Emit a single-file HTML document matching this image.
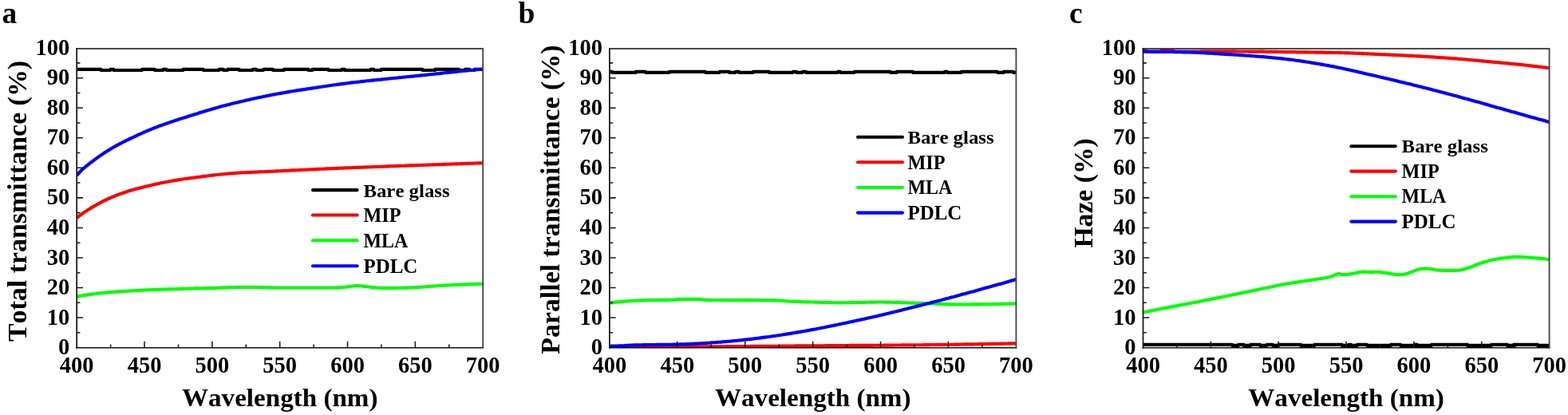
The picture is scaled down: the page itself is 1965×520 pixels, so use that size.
<!DOCTYPE html>
<html lang="en">
<head>
<meta charset="utf-8">
<title>Transmittance and haze spectra</title>
<style>
html,body{margin:0;padding:0;background:#fff;}
body{width:1965px;height:520px;overflow:hidden;}
svg{display:block;}
text{font-family:"Liberation Serif","DejaVu Serif",serif;font-weight:bold;fill:#000;font-kerning:none;}
.tick{font-size:28.5px;}
.leg{font-size:25px;}
.title{font-size:32px;}
.ytitle{font-size:33.5px;}
.plabel{font-size:37.5px;}
.curve{fill:none;stroke-width:4.15;stroke-linejoin:round;stroke-linecap:butt;}
.legline{fill:none;stroke-width:4.1;stroke-linecap:round;}
.axis{fill:none;stroke:#1c1c1c;stroke-width:1.8;}
.axisb{fill:none;stroke:#111;stroke-width:1.45;}
.axis2{fill:none;stroke:#111;stroke-width:1.5;}
.axis3{fill:none;stroke:#484848;stroke-width:1.9;}
.tk{stroke:#1a1a1a;stroke-width:1.55;}
</style>
</head>
<body>
<svg width="1965" height="520" viewBox="0 0 1965 520">
<rect x="0" y="0" width="1965" height="520" fill="#ffffff"/>

<g id="panel-a">
<clipPath id="clip-a"><rect x="96.20" y="60.90" width="509.00" height="374.90"/></clipPath>
<text class="plabel" text-anchor="middle" x="11.9" y="29.0">a</text>
<g clip-path="url(#clip-a)">
<path class="curve" stroke="#000" stroke-width="3.8" stroke-linejoin="miter" d="M96.2,86.9H126.4V88.0H138.3V86.9H142.3V88.0H178.0V86.9H193.9V88.0H204.4V86.9H208.4V88.0H229.6V86.9H254.7V88.0H274.6V86.9H279.9V88.0H285.2V86.9H299.7V88.0H316.9V86.9H320.9V88.0H330.1V86.9H342.1V88.0H356.0V86.9H386.4V88.0H391.7V86.9H411.5V88.0H428.3V86.9H431.8V88.0H464.4V86.9H468.4V88.0H477.7V86.9H529.3V88.0H545.2V86.9H574.9V88.0H582.9V86.9H588.2V88.0H594.8V86.9H605.2"/>
<polyline class="curve" stroke="#ff0000" points="96.2,273.2 97.9,271.7 99.6,270.4 101.3,269.1 103.0,267.9 104.7,266.7 106.4,265.6 108.1,264.4 109.8,263.3 111.5,262.3 113.2,261.2 114.9,260.1 116.6,259.1 118.3,258.1 120.0,257.1 121.7,256.2 123.4,255.3 125.1,254.3 126.8,253.4 128.5,252.5 130.2,251.7 131.9,250.8 133.7,250.0 135.4,249.2 137.1,248.5 138.8,247.7 140.5,247.0 142.2,246.3 143.9,245.6 145.6,244.9 147.3,244.2 149.0,243.6 150.7,243.0 152.4,242.4 154.1,241.8 155.8,241.2 157.5,240.7 159.2,240.1 160.9,239.6 162.6,239.1 164.3,238.6 166.0,238.1 167.7,237.6 169.4,237.1 171.1,236.6 172.8,236.2 174.5,235.8 176.2,235.3 177.9,234.9 179.6,234.5 181.3,234.0 183.0,233.6 184.7,233.2 186.4,232.8 188.1,232.4 189.8,232.0 191.5,231.6 193.2,231.2 194.9,230.8 196.6,230.4 198.3,230.1 200.0,229.7 201.7,229.3 203.4,229.0 205.1,228.7 206.9,228.3 208.6,228.0 210.3,227.7 212.0,227.3 213.7,227.0 215.4,226.7 217.1,226.4 218.8,226.1 220.5,225.9 222.2,225.6 223.9,225.3 225.6,225.0 227.3,224.8 229.0,224.5 230.7,224.3 232.4,224.0 234.1,223.8 235.8,223.6 237.5,223.3 239.2,223.1 240.9,222.9 242.6,222.7 244.3,222.4 246.0,222.2 247.7,222.0 249.4,221.8 251.1,221.6 252.8,221.3 254.5,221.1 256.2,220.9 257.9,220.7 259.6,220.5 261.3,220.2 263.0,220.0 264.7,219.8 266.4,219.6 268.1,219.4 269.8,219.2 271.5,219.0 273.2,218.8 274.9,218.7 276.6,218.5 278.4,218.3 280.1,218.2 281.8,218.0 283.5,217.8 285.2,217.7 286.9,217.5 288.6,217.4 290.3,217.3 292.0,217.1 293.7,217.0 295.4,216.9 297.1,216.8 298.8,216.6 300.5,216.5 302.2,216.4 303.9,216.3 305.6,216.2 307.3,216.2 309.0,216.1 310.7,216.0 312.4,215.9 314.1,215.8 315.8,215.8 317.5,215.7 319.2,215.6 320.9,215.6 322.6,215.5 324.3,215.4 326.0,215.4 327.7,215.3 329.4,215.2 331.1,215.2 332.8,215.1 334.5,215.0 336.2,214.9 337.9,214.9 339.6,214.8 341.3,214.7 343.0,214.6 344.7,214.5 346.4,214.4 348.1,214.4 349.8,214.3 351.6,214.2 353.3,214.1 355.0,214.0 356.7,213.9 358.4,213.8 360.1,213.8 361.8,213.7 363.5,213.6 365.2,213.5 366.9,213.4 368.6,213.3 370.3,213.3 372.0,213.2 373.7,213.1 375.4,213.0 377.1,212.9 378.8,212.9 380.5,212.8 382.2,212.7 383.9,212.6 385.6,212.5 387.3,212.5 389.0,212.4 390.7,212.3 392.4,212.2 394.1,212.1 395.8,212.1 397.5,212.0 399.2,211.9 400.9,211.8 402.6,211.7 404.3,211.7 406.0,211.6 407.7,211.5 409.4,211.4 411.1,211.4 412.8,211.3 414.5,211.2 416.2,211.1 417.9,211.1 419.6,211.0 421.3,210.9 423.0,210.9 424.8,210.8 426.5,210.7 428.2,210.6 429.9,210.6 431.6,210.5 433.3,210.4 435.0,210.4 436.7,210.3 438.4,210.2 440.1,210.2 441.8,210.1 443.5,210.0 445.2,210.0 446.9,209.9 448.6,209.8 450.3,209.8 452.0,209.7 453.7,209.6 455.4,209.6 457.1,209.5 458.8,209.4 460.5,209.4 462.2,209.3 463.9,209.2 465.6,209.2 467.3,209.1 469.0,209.0 470.7,209.0 472.4,208.9 474.1,208.9 475.8,208.8 477.5,208.7 479.2,208.7 480.9,208.6 482.6,208.5 484.3,208.5 486.0,208.4 487.7,208.4 489.4,208.3 491.1,208.2 492.8,208.2 494.5,208.1 496.3,208.1 498.0,208.0 499.7,207.9 501.4,207.9 503.1,207.8 504.8,207.7 506.5,207.7 508.2,207.6 509.9,207.6 511.6,207.5 513.3,207.4 515.0,207.4 516.7,207.3 518.4,207.3 520.1,207.2 521.8,207.1 523.5,207.1 525.2,207.0 526.9,207.0 528.6,206.9 530.3,206.8 532.0,206.8 533.7,206.7 535.4,206.6 537.1,206.6 538.8,206.5 540.5,206.5 542.2,206.4 543.9,206.3 545.6,206.3 547.3,206.2 549.0,206.2 550.7,206.1 552.4,206.0 554.1,206.0 555.8,205.9 557.5,205.9 559.2,205.8 560.9,205.7 562.6,205.7 564.3,205.6 566.0,205.6 567.7,205.5 569.5,205.4 571.2,205.4 572.9,205.3 574.6,205.3 576.3,205.2 578.0,205.1 579.7,205.1 581.4,205.0 583.1,205.0 584.8,204.9 586.5,204.8 588.2,204.8 589.9,204.7 591.6,204.7 593.3,204.6 595.0,204.5 596.7,204.5 598.4,204.4 600.1,204.4 601.8,204.3 603.5,204.3 605.2,204.2"/>
<polyline class="curve" stroke="#00ff00" stroke-width="4.6" points="96.2,371.8 97.9,371.4 99.6,371.1 101.3,370.8 103.0,370.5 104.7,370.2 106.4,369.9 108.1,369.6 109.8,369.4 111.5,369.1 113.2,368.9 114.9,368.6 116.6,368.4 118.3,368.2 120.0,368.0 121.7,367.8 123.4,367.6 125.1,367.4 126.8,367.2 128.5,367.0 130.2,366.9 131.9,366.7 133.7,366.6 135.4,366.4 137.1,366.3 138.8,366.1 140.5,366.0 142.2,365.9 143.9,365.7 145.6,365.6 147.3,365.5 149.0,365.4 150.7,365.3 152.4,365.1 154.1,365.0 155.8,364.9 157.5,364.8 159.2,364.7 160.9,364.6 162.6,364.5 164.3,364.4 166.0,364.3 167.7,364.2 169.4,364.1 171.1,364.0 172.8,363.9 174.5,363.8 176.2,363.7 177.9,363.7 179.6,363.6 181.3,363.5 183.0,363.4 184.7,363.4 186.4,363.3 188.1,363.2 189.8,363.1 191.5,363.1 193.2,363.0 194.9,363.0 196.6,362.9 198.3,362.8 200.0,362.8 201.7,362.7 203.4,362.7 205.1,362.6 206.9,362.5 208.6,362.5 210.3,362.4 212.0,362.4 213.7,362.3 215.4,362.3 217.1,362.2 218.8,362.2 220.5,362.1 222.2,362.1 223.9,362.0 225.6,362.0 227.3,361.9 229.0,361.9 230.7,361.8 232.4,361.8 234.1,361.7 235.8,361.7 237.5,361.6 239.2,361.6 240.9,361.5 242.6,361.5 244.3,361.4 246.0,361.4 247.7,361.4 249.4,361.3 251.1,361.3 252.8,361.2 254.5,361.2 256.2,361.1 257.9,361.1 259.6,361.1 261.3,361.0 263.0,361.0 264.7,360.9 266.4,360.9 268.1,360.8 269.8,360.8 271.5,360.7 273.2,360.7 274.9,360.6 276.6,360.6 278.4,360.5 280.1,360.4 281.8,360.4 283.5,360.3 285.2,360.3 286.9,360.2 288.6,360.1 290.3,360.1 292.0,360.0 293.7,360.0 295.4,360.0 297.1,359.9 298.8,359.9 300.5,359.8 302.2,359.8 303.9,359.8 305.6,359.8 307.3,359.8 309.0,359.8 310.7,359.8 312.4,359.8 314.1,359.8 315.8,359.8 317.5,359.9 319.2,359.9 320.9,359.9 322.6,360.0 324.3,360.0 326.0,360.1 327.7,360.1 329.4,360.1 331.1,360.2 332.8,360.2 334.5,360.3 336.2,360.3 337.9,360.4 339.6,360.4 341.3,360.4 343.0,360.5 344.7,360.5 346.4,360.5 348.1,360.5 349.8,360.5 351.6,360.5 353.3,360.5 355.0,360.5 356.7,360.5 358.4,360.5 360.1,360.5 361.8,360.5 363.5,360.5 365.2,360.5 366.9,360.5 368.6,360.5 370.3,360.5 372.0,360.5 373.7,360.5 375.4,360.5 377.1,360.5 378.8,360.5 380.5,360.5 382.2,360.5 383.9,360.5 385.6,360.5 387.3,360.5 389.0,360.5 390.7,360.5 392.4,360.5 394.1,360.5 395.8,360.5 397.5,360.5 399.2,360.5 400.9,360.5 402.6,360.5 404.3,360.5 406.0,360.5 407.7,360.5 409.4,360.5 411.1,360.5 412.8,360.5 414.5,360.5 416.2,360.5 417.9,360.5 419.6,360.5 421.3,360.4 423.0,360.4 424.8,360.3 426.5,360.2 428.2,360.0 429.9,359.9 431.6,359.7 433.3,359.6 435.0,359.4 436.7,359.2 438.4,359.0 440.1,358.8 441.8,358.5 443.5,358.3 445.2,358.1 446.9,358.0 448.6,358.0 450.3,358.1 452.0,358.2 453.7,358.4 455.4,358.6 457.1,358.9 458.8,359.1 460.5,359.3 462.2,359.5 463.9,359.7 465.6,359.9 467.3,360.1 469.0,360.2 470.7,360.4 472.4,360.5 474.1,360.7 475.8,360.8 477.5,360.8 479.2,360.9 480.9,360.9 482.6,360.9 484.3,360.9 486.0,360.9 487.7,360.9 489.4,360.8 491.1,360.8 492.8,360.8 494.5,360.8 496.3,360.8 498.0,360.8 499.7,360.7 501.4,360.7 503.1,360.7 504.8,360.6 506.5,360.6 508.2,360.6 509.9,360.6 511.6,360.5 513.3,360.5 515.0,360.4 516.7,360.4 518.4,360.3 520.1,360.2 521.8,360.1 523.5,360.0 525.2,359.9 526.9,359.8 528.6,359.7 530.3,359.5 532.0,359.4 533.7,359.3 535.4,359.1 537.1,359.0 538.8,358.9 540.5,358.7 542.2,358.6 543.9,358.5 545.6,358.3 547.3,358.2 549.0,358.1 550.7,357.9 552.4,357.8 554.1,357.7 555.8,357.6 557.5,357.5 559.2,357.4 560.9,357.4 562.6,357.3 564.3,357.2 566.0,357.1 567.7,357.0 569.5,357.0 571.2,356.9 572.9,356.8 574.6,356.7 576.3,356.7 578.0,356.6 579.7,356.5 581.4,356.5 583.1,356.4 584.8,356.3 586.5,356.3 588.2,356.2 589.9,356.1 591.6,356.1 593.3,356.0 595.0,356.0 596.7,355.9 598.4,355.8 600.1,355.8 601.8,355.7 603.5,355.7 605.2,355.6"/>
<polyline class="curve" stroke="#0000ff" points="96.2,219.9 97.9,217.9 99.6,216.0 101.3,214.2 103.0,212.6 104.7,211.0 106.4,209.6 108.1,208.2 109.8,206.8 111.5,205.5 113.2,204.2 114.9,202.9 116.6,201.6 118.3,200.3 120.0,199.1 121.7,197.8 123.4,196.6 125.1,195.4 126.8,194.3 128.5,193.1 130.2,191.9 131.9,190.8 133.7,189.7 135.4,188.6 137.1,187.6 138.8,186.5 140.5,185.5 142.2,184.5 143.9,183.6 145.6,182.6 147.3,181.7 149.0,180.8 150.7,179.9 152.4,179.0 154.1,178.1 155.8,177.3 157.5,176.4 159.2,175.6 160.9,174.8 162.6,174.0 164.3,173.2 166.0,172.4 167.7,171.6 169.4,170.8 171.1,170.0 172.8,169.2 174.5,168.4 176.2,167.7 177.9,166.9 179.6,166.2 181.3,165.4 183.0,164.7 184.7,163.9 186.4,163.2 188.1,162.5 189.8,161.8 191.5,161.1 193.2,160.4 194.9,159.7 196.6,159.1 198.3,158.4 200.0,157.8 201.7,157.2 203.4,156.6 205.1,156.0 206.9,155.4 208.6,154.8 210.3,154.2 212.0,153.6 213.7,153.0 215.4,152.4 217.1,151.9 218.8,151.3 220.5,150.7 222.2,150.2 223.9,149.6 225.6,149.1 227.3,148.5 229.0,148.0 230.7,147.4 232.4,146.9 234.1,146.4 235.8,145.8 237.5,145.3 239.2,144.8 240.9,144.3 242.6,143.7 244.3,143.2 246.0,142.7 247.7,142.2 249.4,141.6 251.1,141.1 252.8,140.6 254.5,140.1 256.2,139.5 257.9,139.0 259.6,138.5 261.3,138.0 263.0,137.4 264.7,136.9 266.4,136.4 268.1,135.9 269.8,135.4 271.5,134.9 273.2,134.5 274.9,134.0 276.6,133.5 278.4,133.1 280.1,132.6 281.8,132.2 283.5,131.7 285.2,131.3 286.9,130.9 288.6,130.4 290.3,130.0 292.0,129.6 293.7,129.2 295.4,128.8 297.1,128.4 298.8,128.0 300.5,127.6 302.2,127.2 303.9,126.8 305.6,126.4 307.3,126.0 309.0,125.6 310.7,125.2 312.4,124.9 314.1,124.5 315.8,124.1 317.5,123.7 319.2,123.3 320.9,123.0 322.6,122.6 324.3,122.2 326.0,121.9 327.7,121.5 329.4,121.2 331.1,120.8 332.8,120.5 334.5,120.1 336.2,119.8 337.9,119.4 339.6,119.1 341.3,118.8 343.0,118.4 344.7,118.1 346.4,117.8 348.1,117.5 349.8,117.2 351.6,116.9 353.3,116.6 355.0,116.3 356.7,116.0 358.4,115.7 360.1,115.4 361.8,115.1 363.5,114.8 365.2,114.5 366.9,114.2 368.6,114.0 370.3,113.7 372.0,113.4 373.7,113.2 375.4,112.9 377.1,112.6 378.8,112.4 380.5,112.1 382.2,111.9 383.9,111.6 385.6,111.3 387.3,111.1 389.0,110.8 390.7,110.6 392.4,110.3 394.1,110.1 395.8,109.8 397.5,109.6 399.2,109.3 400.9,109.0 402.6,108.8 404.3,108.5 406.0,108.3 407.7,108.0 409.4,107.8 411.1,107.5 412.8,107.3 414.5,107.0 416.2,106.8 417.9,106.5 419.6,106.3 421.3,106.1 423.0,105.8 424.8,105.6 426.5,105.4 428.2,105.1 429.9,104.9 431.6,104.7 433.3,104.5 435.0,104.3 436.7,104.1 438.4,103.8 440.1,103.6 441.8,103.4 443.5,103.2 445.2,103.0 446.9,102.9 448.6,102.7 450.3,102.5 452.0,102.3 453.7,102.1 455.4,101.9 457.1,101.7 458.8,101.5 460.5,101.3 462.2,101.2 463.9,101.0 465.6,100.8 467.3,100.6 469.0,100.4 470.7,100.3 472.4,100.1 474.1,99.9 475.8,99.7 477.5,99.6 479.2,99.4 480.9,99.2 482.6,99.0 484.3,98.9 486.0,98.7 487.7,98.5 489.4,98.3 491.1,98.2 492.8,98.0 494.5,97.8 496.3,97.7 498.0,97.5 499.7,97.3 501.4,97.1 503.1,97.0 504.8,96.8 506.5,96.6 508.2,96.5 509.9,96.3 511.6,96.1 513.3,96.0 515.0,95.8 516.7,95.6 518.4,95.5 520.1,95.3 521.8,95.1 523.5,94.9 525.2,94.8 526.9,94.6 528.6,94.4 530.3,94.2 532.0,94.1 533.7,93.9 535.4,93.7 537.1,93.5 538.8,93.3 540.5,93.2 542.2,93.0 543.9,92.8 545.6,92.6 547.3,92.4 549.0,92.2 550.7,92.1 552.4,91.9 554.1,91.7 555.8,91.5 557.5,91.3 559.2,91.1 560.9,91.0 562.6,90.8 564.3,90.6 566.0,90.4 567.7,90.2 569.5,90.1 571.2,89.9 572.9,89.7 574.6,89.5 576.3,89.3 578.0,89.2 579.7,89.0 581.4,88.8 583.1,88.7 584.8,88.5 586.5,88.3 588.2,88.1 589.9,88.0 591.6,87.8 593.3,87.7 595.0,87.5 596.7,87.3 598.4,87.2 600.1,87.0 601.8,86.8 603.5,86.7 605.2,86.5"/>
</g>
<path class="axis" d="M96.20,60.15 V436.50"/>
<path class="axisb" d="M95.30,435.80 H606.10"/>
<path class="axis2" d="M95.30,60.90 H606.10"/>
<path class="axis3" d="M605.20,60.90 V436.50"/>
<path class="tk" d="M96.20,416.83h4.2M96.20,398.05h7.8M96.20,379.28h4.2M96.20,360.50h7.8M96.20,341.73h4.2M96.20,322.95h7.8M96.20,304.18h4.2M96.20,285.40h7.8M96.20,266.62h4.2M96.20,247.85h7.8M96.20,229.08h4.2M96.20,210.30h7.8M96.20,191.53h4.2M96.20,172.75h7.8M96.20,153.98h4.2M96.20,135.20h7.8M96.20,116.43h4.2M96.20,97.65h7.8M96.20,78.88h4.2M138.62,435.80v-4.2M181.03,435.80v-8.0M223.45,435.80v-4.2M265.87,435.80v-8.0M308.28,435.80v-4.2M350.70,435.80v-8.0M393.12,435.80v-4.2M435.53,435.80v-8.0M477.95,435.80v-4.2M520.37,435.80v-8.0M562.78,435.80v-4.2"/>
<text class="tick" text-anchor="end" x="87.2" y="444.2">0</text>
<text class="tick" text-anchor="end" x="87.2" y="406.6">10</text>
<text class="tick" text-anchor="end" x="87.2" y="369.1">20</text>
<text class="tick" text-anchor="end" x="87.2" y="331.5">30</text>
<text class="tick" text-anchor="end" x="87.2" y="293.9">40</text>
<text class="tick" text-anchor="end" x="87.2" y="256.4">50</text>
<text class="tick" text-anchor="end" x="87.2" y="218.8">60</text>
<text class="tick" text-anchor="end" x="87.2" y="181.2">70</text>
<text class="tick" text-anchor="end" x="87.2" y="143.7">80</text>
<text class="tick" text-anchor="end" x="87.2" y="106.1">90</text>
<text class="tick" text-anchor="end" x="87.2" y="68.6">100</text>
<text class="tick" text-anchor="middle" x="96.2" y="466.7">400</text>
<text class="tick" text-anchor="middle" x="181.0" y="466.7">450</text>
<text class="tick" text-anchor="middle" x="265.9" y="466.7">500</text>
<text class="tick" text-anchor="middle" x="350.7" y="466.7">550</text>
<text class="tick" text-anchor="middle" x="435.5" y="466.7">600</text>
<text class="tick" text-anchor="middle" x="520.4" y="466.7">650</text>
<text class="tick" text-anchor="middle" x="605.2" y="466.7">700</text>
<text class="title" text-anchor="middle" transform="translate(350.7,508.9) scale(1.035,1)">Wavelength (nm)</text>
<text class="ytitle" text-anchor="middle" transform="translate(33.0,252.0) rotate(-90) scale(1.0124,1.02)">Total transmittance (%)</text>
<path class="legline" stroke="#000000" d="M392.0,238.1H447.6"/>
<text class="leg" style="font-size:24px" transform="translate(455.4,246.7) scale(1.035,1)">Bare glass</text>
<path class="legline" stroke="#ff0000" d="M392.0,269.5H447.6"/>
<text class="leg" style="font-size:24.6px" transform="translate(455.4,278.4) scale(0.987,1)">MIP</text>
<path class="legline" stroke="#00ff00" d="M392.0,301.2H447.6"/>
<text class="leg" style="font-size:24.6px" transform="translate(455.4,309.8) scale(0.972,1)">MLA</text>
<path class="legline" stroke="#0000ff" d="M392.0,333.3H447.6"/>
<text class="leg" style="font-size:24.6px" transform="translate(455.4,341.5) scale(1.015,1)">PDLC</text>
</g>
<g id="panel-b">
<clipPath id="clip-b"><rect x="763.90" y="60.90" width="509.50" height="374.90"/></clipPath>
<text class="plabel" text-anchor="middle" x="659.9" y="29.2">b</text>
<g clip-path="url(#clip-b)">
<path class="curve" stroke="#000" stroke-width="3.8" stroke-linejoin="miter" d="M763.9,89.8H766.9V90.8H796.9V89.8H808.9V90.8H838.9V89.8H883.9V90.8H901.9V89.8H913.9V90.8H921.9V89.8H925.9V90.8H943.9V89.8H963.9V90.8H993.9V89.8H997.9V90.8H1005.9V89.8H1009.9V90.8H1049.9V89.8H1052.9V90.8H1070.9V89.8H1115.9V90.8H1123.9V89.8H1143.9V90.8H1183.9V89.8H1186.9V90.8H1204.9V89.8H1249.9V90.8H1257.9V89.8H1269.9V90.8H1273.4"/>
<polyline class="curve" stroke="#ff0000" points="763.9,434.4 765.6,434.4 767.3,434.4 769.0,434.4 770.7,434.4 772.4,434.4 774.1,434.4 775.8,434.4 777.5,434.4 779.2,434.4 780.9,434.4 782.6,434.4 784.3,434.4 786.1,434.4 787.8,434.4 789.5,434.4 791.2,434.4 792.9,434.4 794.6,434.4 796.3,434.4 798.0,434.4 799.7,434.4 801.4,434.4 803.1,434.4 804.8,434.4 806.5,434.4 808.2,434.4 809.9,434.4 811.6,434.4 813.3,434.4 815.0,434.4 816.7,434.4 818.4,434.4 820.1,434.4 821.8,434.4 823.5,434.4 825.2,434.4 826.9,434.4 828.7,434.4 830.4,434.4 832.1,434.4 833.8,434.4 835.5,434.4 837.2,434.4 838.9,434.4 840.6,434.4 842.3,434.4 844.0,434.4 845.7,434.4 847.4,434.4 849.1,434.4 850.8,434.4 852.5,434.4 854.2,434.4 855.9,434.4 857.6,434.4 859.3,434.4 861.0,434.4 862.7,434.4 864.4,434.3 866.1,434.3 867.8,434.3 869.5,434.3 871.3,434.3 873.0,434.3 874.7,434.3 876.4,434.3 878.1,434.3 879.8,434.3 881.5,434.3 883.2,434.3 884.9,434.3 886.6,434.3 888.3,434.3 890.0,434.3 891.7,434.2 893.4,434.2 895.1,434.2 896.8,434.2 898.5,434.2 900.2,434.2 901.9,434.2 903.6,434.2 905.3,434.2 907.0,434.2 908.7,434.2 910.4,434.1 912.1,434.1 913.9,434.1 915.6,434.1 917.3,434.1 919.0,434.1 920.7,434.1 922.4,434.1 924.1,434.1 925.8,434.0 927.5,434.0 929.2,434.0 930.9,434.0 932.6,434.0 934.3,434.0 936.0,434.0 937.7,434.0 939.4,434.0 941.1,433.9 942.8,433.9 944.5,433.9 946.2,433.9 947.9,433.9 949.6,433.9 951.3,433.9 953.0,433.9 954.7,433.8 956.5,433.8 958.2,433.8 959.9,433.8 961.6,433.8 963.3,433.8 965.0,433.7 966.7,433.7 968.4,433.7 970.1,433.7 971.8,433.7 973.5,433.7 975.2,433.7 976.9,433.6 978.6,433.6 980.3,433.6 982.0,433.6 983.7,433.6 985.4,433.6 987.1,433.5 988.8,433.5 990.5,433.5 992.2,433.5 993.9,433.5 995.6,433.5 997.3,433.4 999.1,433.4 1000.8,433.4 1002.5,433.4 1004.2,433.4 1005.9,433.4 1007.6,433.3 1009.3,433.3 1011.0,433.3 1012.7,433.3 1014.4,433.3 1016.1,433.3 1017.8,433.3 1019.5,433.2 1021.2,433.2 1022.9,433.2 1024.6,433.2 1026.3,433.2 1028.0,433.2 1029.7,433.2 1031.4,433.2 1033.1,433.2 1034.8,433.1 1036.5,433.1 1038.2,433.1 1040.0,433.1 1041.7,433.1 1043.4,433.1 1045.1,433.1 1046.8,433.1 1048.5,433.1 1050.2,433.0 1051.9,433.0 1053.6,433.0 1055.3,433.0 1057.0,433.0 1058.7,433.0 1060.4,433.0 1062.1,433.0 1063.8,433.0 1065.5,432.9 1067.2,432.9 1068.9,432.9 1070.6,432.9 1072.3,432.9 1074.0,432.9 1075.7,432.9 1077.4,432.9 1079.1,432.9 1080.8,432.9 1082.6,432.8 1084.3,432.8 1086.0,432.8 1087.7,432.8 1089.4,432.8 1091.1,432.8 1092.8,432.8 1094.5,432.8 1096.2,432.7 1097.9,432.7 1099.6,432.7 1101.3,432.7 1103.0,432.7 1104.7,432.7 1106.4,432.7 1108.1,432.6 1109.8,432.6 1111.5,432.6 1113.2,432.6 1114.9,432.6 1116.6,432.6 1118.3,432.6 1120.0,432.5 1121.7,432.5 1123.4,432.5 1125.2,432.5 1126.9,432.5 1128.6,432.5 1130.3,432.4 1132.0,432.4 1133.7,432.4 1135.4,432.4 1137.1,432.4 1138.8,432.4 1140.5,432.3 1142.2,432.3 1143.9,432.3 1145.6,432.3 1147.3,432.3 1149.0,432.2 1150.7,432.2 1152.4,432.2 1154.1,432.2 1155.8,432.2 1157.5,432.1 1159.2,432.1 1160.9,432.1 1162.6,432.1 1164.3,432.1 1166.0,432.0 1167.8,432.0 1169.5,432.0 1171.2,432.0 1172.9,432.0 1174.6,431.9 1176.3,431.9 1178.0,431.9 1179.7,431.9 1181.4,431.8 1183.1,431.8 1184.8,431.8 1186.5,431.8 1188.2,431.8 1189.9,431.7 1191.6,431.7 1193.3,431.7 1195.0,431.7 1196.7,431.6 1198.4,431.6 1200.1,431.6 1201.8,431.6 1203.5,431.5 1205.2,431.5 1206.9,431.5 1208.6,431.4 1210.4,431.4 1212.1,431.4 1213.8,431.4 1215.5,431.3 1217.2,431.3 1218.9,431.3 1220.6,431.3 1222.3,431.2 1224.0,431.2 1225.7,431.2 1227.4,431.1 1229.1,431.1 1230.8,431.1 1232.5,431.0 1234.2,431.0 1235.9,431.0 1237.6,431.0 1239.3,430.9 1241.0,430.9 1242.7,430.9 1244.4,430.8 1246.1,430.8 1247.8,430.8 1249.5,430.7 1251.2,430.7 1253.0,430.7 1254.7,430.6 1256.4,430.6 1258.1,430.6 1259.8,430.5 1261.5,430.5 1263.2,430.5 1264.9,430.4 1266.6,430.4 1268.3,430.4 1270.0,430.3 1271.7,430.3 1273.4,430.3"/>
<polyline class="curve" stroke="#00ff00" stroke-width="4.6" points="763.9,379.6 765.6,379.4 767.3,379.2 769.0,379.0 770.7,378.8 772.4,378.6 774.1,378.4 775.8,378.2 777.5,378.1 779.2,377.9 780.9,377.8 782.6,377.6 784.3,377.5 786.1,377.4 787.8,377.3 789.5,377.1 791.2,377.0 792.9,376.9 794.6,376.8 796.3,376.7 798.0,376.6 799.7,376.5 801.4,376.5 803.1,376.4 804.8,376.3 806.5,376.3 808.2,376.2 809.9,376.2 811.6,376.1 813.3,376.1 815.0,376.1 816.7,376.1 818.4,376.0 820.1,376.0 821.8,376.0 823.5,376.0 825.2,376.0 826.9,375.9 828.7,375.9 830.4,375.9 832.1,375.9 833.8,375.9 835.5,375.8 837.2,375.8 838.9,375.8 840.6,375.7 842.3,375.7 844.0,375.7 845.7,375.6 847.4,375.5 849.1,375.4 850.8,375.3 852.5,375.1 854.2,374.9 855.9,374.8 857.6,374.8 859.3,374.8 861.0,374.8 862.7,374.8 864.4,374.8 866.1,374.8 867.8,374.8 869.5,374.8 871.3,374.8 873.0,374.8 874.7,374.8 876.4,374.9 878.1,375.1 879.8,375.4 881.5,375.6 883.2,375.8 884.9,375.9 886.6,375.9 888.3,375.9 890.0,376.0 891.7,376.0 893.4,376.0 895.1,376.0 896.8,376.0 898.5,376.0 900.2,376.0 901.9,376.0 903.6,376.0 905.3,376.1 907.0,376.1 908.7,376.1 910.4,376.1 912.1,376.1 913.9,376.1 915.6,376.1 917.3,376.1 919.0,376.1 920.7,376.1 922.4,376.1 924.1,376.1 925.8,376.1 927.5,376.1 929.2,376.1 930.9,376.1 932.6,376.1 934.3,376.1 936.0,376.1 937.7,376.1 939.4,376.1 941.1,376.1 942.8,376.1 944.5,376.1 946.2,376.1 947.9,376.1 949.6,376.1 951.3,376.2 953.0,376.2 954.7,376.2 956.5,376.2 958.2,376.2 959.9,376.2 961.6,376.2 963.3,376.2 965.0,376.2 966.7,376.3 968.4,376.3 970.1,376.3 971.8,376.4 973.5,376.5 975.2,376.6 976.9,376.7 978.6,376.8 980.3,376.9 982.0,377.0 983.7,377.2 985.4,377.3 987.1,377.4 988.8,377.5 990.5,377.6 992.2,377.7 993.9,377.8 995.6,377.9 997.3,377.9 999.1,378.0 1000.8,378.0 1002.5,378.1 1004.2,378.1 1005.9,378.2 1007.6,378.2 1009.3,378.3 1011.0,378.3 1012.7,378.4 1014.4,378.4 1016.1,378.5 1017.8,378.5 1019.5,378.5 1021.2,378.6 1022.9,378.6 1024.6,378.7 1026.3,378.7 1028.0,378.8 1029.7,378.8 1031.4,378.9 1033.1,378.9 1034.8,379.0 1036.5,379.0 1038.2,379.1 1040.0,379.1 1041.7,379.1 1043.4,379.2 1045.1,379.2 1046.8,379.2 1048.5,379.2 1050.2,379.3 1051.9,379.3 1053.6,379.3 1055.3,379.3 1057.0,379.2 1058.7,379.2 1060.4,379.2 1062.1,379.2 1063.8,379.2 1065.5,379.1 1067.2,379.1 1068.9,379.1 1070.6,379.0 1072.3,379.0 1074.0,379.0 1075.7,378.9 1077.4,378.9 1079.1,378.9 1080.8,378.8 1082.6,378.8 1084.3,378.8 1086.0,378.7 1087.7,378.7 1089.4,378.7 1091.1,378.6 1092.8,378.6 1094.5,378.6 1096.2,378.6 1097.9,378.5 1099.6,378.5 1101.3,378.5 1103.0,378.5 1104.7,378.5 1106.4,378.5 1108.1,378.5 1109.8,378.6 1111.5,378.6 1113.2,378.6 1114.9,378.7 1116.6,378.7 1118.3,378.7 1120.0,378.8 1121.7,378.8 1123.4,378.9 1125.2,378.9 1126.9,379.0 1128.6,379.1 1130.3,379.1 1132.0,379.2 1133.7,379.3 1135.4,379.3 1137.1,379.4 1138.8,379.5 1140.5,379.5 1142.2,379.6 1143.9,379.6 1145.6,379.7 1147.3,379.8 1149.0,379.8 1150.7,379.9 1152.4,379.9 1154.1,380.0 1155.8,380.1 1157.5,380.1 1159.2,380.2 1160.9,380.2 1162.6,380.3 1164.3,380.4 1166.0,380.4 1167.8,380.5 1169.5,380.5 1171.2,380.6 1172.9,380.7 1174.6,380.7 1176.3,380.8 1178.0,380.9 1179.7,380.9 1181.4,381.0 1183.1,381.1 1184.8,381.1 1186.5,381.2 1188.2,381.2 1189.9,381.3 1191.6,381.3 1193.3,381.4 1195.0,381.4 1196.7,381.4 1198.4,381.5 1200.1,381.5 1201.8,381.5 1203.5,381.5 1205.2,381.5 1206.9,381.5 1208.6,381.5 1210.4,381.5 1212.1,381.5 1213.8,381.5 1215.5,381.5 1217.2,381.4 1218.9,381.4 1220.6,381.4 1222.3,381.4 1224.0,381.4 1225.7,381.3 1227.4,381.3 1229.1,381.3 1230.8,381.3 1232.5,381.2 1234.2,381.2 1235.9,381.2 1237.6,381.2 1239.3,381.1 1241.0,381.1 1242.7,381.1 1244.4,381.1 1246.1,381.0 1247.8,381.0 1249.5,381.0 1251.2,380.9 1253.0,380.9 1254.7,380.9 1256.4,380.8 1258.1,380.8 1259.8,380.7 1261.5,380.7 1263.2,380.7 1264.9,380.6 1266.6,380.6 1268.3,380.5 1270.0,380.5 1271.7,380.4 1273.4,380.4"/>
<polyline class="curve" stroke="#0000ff" points="763.9,433.6 765.6,433.6 767.3,433.6 769.0,433.6 770.7,433.6 772.4,433.5 774.1,433.5 775.8,433.4 777.5,433.4 779.2,433.3 780.9,433.2 782.6,433.1 784.3,432.9 786.1,432.8 787.8,432.7 789.5,432.6 791.2,432.6 792.9,432.5 794.6,432.4 796.3,432.4 798.0,432.3 799.7,432.3 801.4,432.2 803.1,432.2 804.8,432.2 806.5,432.1 808.2,432.1 809.9,432.1 811.6,432.1 813.3,432.0 815.0,432.0 816.7,432.0 818.4,432.0 820.1,432.0 821.8,432.0 823.5,431.9 825.2,431.9 826.9,431.9 828.7,431.9 830.4,431.8 832.1,431.8 833.8,431.8 835.5,431.8 837.2,431.7 838.9,431.7 840.6,431.7 842.3,431.7 844.0,431.6 845.7,431.6 847.4,431.5 849.1,431.5 850.8,431.5 852.5,431.4 854.2,431.4 855.9,431.3 857.6,431.2 859.3,431.2 861.0,431.1 862.7,431.0 864.4,431.0 866.1,430.9 867.8,430.8 869.5,430.7 871.3,430.6 873.0,430.6 874.7,430.5 876.4,430.4 878.1,430.3 879.8,430.2 881.5,430.1 883.2,430.0 884.9,429.9 886.6,429.8 888.3,429.7 890.0,429.5 891.7,429.4 893.4,429.3 895.1,429.2 896.8,429.1 898.5,428.9 900.2,428.8 901.9,428.7 903.6,428.6 905.3,428.4 907.0,428.3 908.7,428.1 910.4,428.0 912.1,427.8 913.9,427.7 915.6,427.5 917.3,427.4 919.0,427.2 920.7,427.0 922.4,426.9 924.1,426.7 925.8,426.5 927.5,426.4 929.2,426.2 930.9,426.0 932.6,425.8 934.3,425.6 936.0,425.4 937.7,425.3 939.4,425.1 941.1,424.9 942.8,424.7 944.5,424.4 946.2,424.2 947.9,424.0 949.6,423.8 951.3,423.6 953.0,423.4 954.7,423.1 956.5,422.9 958.2,422.7 959.9,422.4 961.6,422.2 963.3,422.0 965.0,421.7 966.7,421.5 968.4,421.2 970.1,421.0 971.8,420.7 973.5,420.5 975.2,420.2 976.9,420.0 978.6,419.7 980.3,419.5 982.0,419.2 983.7,418.9 985.4,418.7 987.1,418.4 988.8,418.1 990.5,417.9 992.2,417.6 993.9,417.3 995.6,417.0 997.3,416.7 999.1,416.4 1000.8,416.1 1002.5,415.9 1004.2,415.6 1005.9,415.3 1007.6,415.0 1009.3,414.7 1011.0,414.4 1012.7,414.1 1014.4,413.7 1016.1,413.4 1017.8,413.1 1019.5,412.8 1021.2,412.5 1022.9,412.2 1024.6,411.8 1026.3,411.5 1028.0,411.2 1029.7,410.8 1031.4,410.5 1033.1,410.2 1034.8,409.8 1036.5,409.5 1038.2,409.1 1040.0,408.8 1041.7,408.4 1043.4,408.1 1045.1,407.7 1046.8,407.4 1048.5,407.0 1050.2,406.7 1051.9,406.3 1053.6,406.0 1055.3,405.6 1057.0,405.2 1058.7,404.9 1060.4,404.5 1062.1,404.2 1063.8,403.8 1065.5,403.4 1067.2,403.1 1068.9,402.7 1070.6,402.3 1072.3,402.0 1074.0,401.6 1075.7,401.2 1077.4,400.9 1079.1,400.5 1080.8,400.1 1082.6,399.7 1084.3,399.4 1086.0,399.0 1087.7,398.6 1089.4,398.2 1091.1,397.8 1092.8,397.5 1094.5,397.1 1096.2,396.7 1097.9,396.3 1099.6,395.9 1101.3,395.5 1103.0,395.1 1104.7,394.7 1106.4,394.3 1108.1,393.9 1109.8,393.5 1111.5,393.1 1113.2,392.7 1114.9,392.3 1116.6,391.8 1118.3,391.4 1120.0,391.0 1121.7,390.6 1123.4,390.2 1125.2,389.7 1126.9,389.3 1128.6,388.9 1130.3,388.5 1132.0,388.0 1133.7,387.6 1135.4,387.2 1137.1,386.8 1138.8,386.3 1140.5,385.9 1142.2,385.5 1143.9,385.1 1145.6,384.6 1147.3,384.2 1149.0,383.8 1150.7,383.3 1152.4,382.9 1154.1,382.5 1155.8,382.0 1157.5,381.6 1159.2,381.2 1160.9,380.7 1162.6,380.3 1164.3,379.9 1166.0,379.4 1167.8,379.0 1169.5,378.6 1171.2,378.1 1172.9,377.7 1174.6,377.3 1176.3,376.8 1178.0,376.4 1179.7,375.9 1181.4,375.5 1183.1,375.0 1184.8,374.6 1186.5,374.1 1188.2,373.7 1189.9,373.2 1191.6,372.8 1193.3,372.3 1195.0,371.9 1196.7,371.4 1198.4,371.0 1200.1,370.5 1201.8,370.0 1203.5,369.6 1205.2,369.1 1206.9,368.6 1208.6,368.2 1210.4,367.7 1212.1,367.2 1213.8,366.8 1215.5,366.3 1217.2,365.8 1218.9,365.4 1220.6,364.9 1222.3,364.4 1224.0,363.9 1225.7,363.5 1227.4,363.0 1229.1,362.5 1230.8,362.1 1232.5,361.6 1234.2,361.1 1235.9,360.6 1237.6,360.1 1239.3,359.7 1241.0,359.2 1242.7,358.7 1244.4,358.2 1246.1,357.8 1247.8,357.3 1249.5,356.8 1251.2,356.3 1253.0,355.9 1254.7,355.4 1256.4,354.9 1258.1,354.4 1259.8,354.0 1261.5,353.5 1263.2,353.0 1264.9,352.6 1266.6,352.1 1268.3,351.6 1270.0,351.1 1271.7,350.6 1273.4,350.0"/>
</g>
<path class="axis" d="M763.90,60.15 V436.50"/>
<path class="axisb" d="M763.00,435.80 H1274.30"/>
<path class="axis2" d="M763.00,60.90 H1274.30"/>
<path class="axis3" d="M1273.40,60.90 V436.50"/>
<path class="tk" d="M763.90,416.83h4.2M763.90,398.05h7.8M763.90,379.28h4.2M763.90,360.50h7.8M763.90,341.73h4.2M763.90,322.95h7.8M763.90,304.18h4.2M763.90,285.40h7.8M763.90,266.62h4.2M763.90,247.85h7.8M763.90,229.08h4.2M763.90,210.30h7.8M763.90,191.53h4.2M763.90,172.75h7.8M763.90,153.98h4.2M763.90,135.20h7.8M763.90,116.43h4.2M763.90,97.65h7.8M763.90,78.88h4.2M806.36,435.80v-4.2M848.82,435.80v-8.0M891.27,435.80v-4.2M933.73,435.80v-8.0M976.19,435.80v-4.2M1018.65,435.80v-8.0M1061.11,435.80v-4.2M1103.57,435.80v-8.0M1146.03,435.80v-4.2M1188.48,435.80v-8.0M1230.94,435.80v-4.2"/>
<text class="tick" text-anchor="end" x="754.9" y="444.2">0</text>
<text class="tick" text-anchor="end" x="754.9" y="406.6">10</text>
<text class="tick" text-anchor="end" x="754.9" y="369.1">20</text>
<text class="tick" text-anchor="end" x="754.9" y="331.5">30</text>
<text class="tick" text-anchor="end" x="754.9" y="293.9">40</text>
<text class="tick" text-anchor="end" x="754.9" y="256.4">50</text>
<text class="tick" text-anchor="end" x="754.9" y="218.8">60</text>
<text class="tick" text-anchor="end" x="754.9" y="181.2">70</text>
<text class="tick" text-anchor="end" x="754.9" y="143.7">80</text>
<text class="tick" text-anchor="end" x="754.9" y="106.1">90</text>
<text class="tick" text-anchor="end" x="754.9" y="68.6">100</text>
<text class="tick" text-anchor="middle" x="763.9" y="466.7">400</text>
<text class="tick" text-anchor="middle" x="848.8" y="466.7">450</text>
<text class="tick" text-anchor="middle" x="933.7" y="466.7">500</text>
<text class="tick" text-anchor="middle" x="1018.7" y="466.7">550</text>
<text class="tick" text-anchor="middle" x="1103.6" y="466.7">600</text>
<text class="tick" text-anchor="middle" x="1188.5" y="466.7">650</text>
<text class="tick" text-anchor="middle" x="1273.4" y="466.7">700</text>
<text class="title" text-anchor="middle" transform="translate(1018.7,508.9) scale(1.035,1)">Wavelength (nm)</text>
<text class="ytitle" text-anchor="middle" transform="translate(701.1,250.1) rotate(-90) scale(1.01,1.02)">Parallel transmittance (%)</text>
<path class="legline" stroke="#000000" d="M1075.0,171.8H1131.0"/>
<text class="leg" style="font-size:24px" transform="translate(1137.4,179.8) scale(1.035,1)">Bare glass</text>
<path class="legline" stroke="#ff0000" d="M1075.0,203.3H1131.0"/>
<text class="leg" style="font-size:24.6px" transform="translate(1137.4,211.5) scale(0.987,1)">MIP</text>
<path class="legline" stroke="#00ff00" d="M1075.0,235.0H1131.0"/>
<text class="leg" style="font-size:24.6px" transform="translate(1137.4,242.8) scale(0.972,1)">MLA</text>
<path class="legline" stroke="#0000ff" d="M1075.0,266.6H1131.0"/>
<text class="leg" style="font-size:24.6px" transform="translate(1137.4,274.6) scale(1.015,1)">PDLC</text>
</g>
<g id="panel-c">
<clipPath id="clip-c"><rect x="1432.50" y="60.90" width="509.10" height="374.90"/></clipPath>
<text class="plabel" text-anchor="middle" x="1348.4" y="29.2">c</text>
<g clip-path="url(#clip-c)">
<path class="curve" stroke="#000" stroke-width="3.8" stroke-linejoin="miter" d="M1432.5,431.8H1544.1V432.9H1552.0V431.8H1558.6V432.9H1567.2V431.8H1579.1V432.9H1587.7V431.8H1595.0V432.9H1602.3V431.8H1630.1V432.9H1647.3V431.8H1681.7V432.9H1690.0V431.8H1693.0V432.9H1701.0V431.8H1713.0V432.9H1743.0V431.8H1755.0V432.9H1773.0V431.8H1776.0V432.9H1794.0V431.8H1839.0V432.9H1869.0V431.8H1889.0V432.9H1897.0V431.8H1927.0V432.9H1941.6"/>
<polyline class="curve" stroke="#ff0000" points="1432.5,63.4 1433.3,63.4 1434.2,63.4 1435.0,63.4 1435.9,63.4 1436.7,64.6 1437.6,64.6 1438.4,64.6 1439.3,64.6 1440.1,64.6 1441.0,64.6 1441.8,64.6 1442.7,64.6 1443.5,64.6 1444.4,64.6 1445.2,64.6 1446.1,64.6 1446.9,64.6 1447.8,64.6 1448.6,64.6 1449.5,64.6 1450.3,64.6 1451.2,64.6 1452.0,64.6 1452.9,64.6 1453.7,64.6 1454.6,64.6 1455.4,63.4 1456.3,63.4 1457.1,63.4 1458.0,63.4 1458.8,63.4 1459.7,63.4 1460.5,63.4 1461.4,63.4 1462.2,63.4 1463.1,63.4 1463.9,63.4 1464.8,63.4 1465.6,63.4 1466.5,63.4 1467.3,63.4 1468.2,63.4 1469.0,63.4 1469.9,63.4 1470.7,63.4 1471.6,64.6 1472.4,64.6 1473.3,64.6 1474.1,64.6 1475.0,64.6 1475.8,64.6 1476.7,64.6 1477.5,64.6 1478.4,64.6 1479.2,64.6 1480.1,64.6 1480.9,64.6 1481.8,64.6 1482.6,64.6 1483.5,64.5 1484.3,64.5 1485.2,64.5 1486.0,64.5 1486.9,64.5 1487.7,64.5 1488.6,64.5 1489.4,64.5 1490.3,64.5 1491.1,64.5 1492.0,64.5 1492.8,64.5 1493.7,64.5 1494.5,64.5 1495.4,64.5 1496.2,64.5 1497.1,64.5 1497.9,64.5 1498.8,64.5 1499.6,64.5 1500.5,64.5 1501.3,64.5 1502.2,64.5 1503.0,64.5 1503.9,64.5 1504.7,64.4 1505.6,64.4 1506.4,64.4 1507.3,64.4 1508.1,64.4 1509.0,64.4 1509.8,64.4 1510.7,64.4 1511.5,64.4 1512.4,64.4 1513.2,64.4 1514.1,64.4 1514.9,64.4 1515.8,64.4 1516.6,64.4 1517.5,64.4 1518.3,64.4 1519.2,64.4 1520.0,64.4 1520.9,64.4 1521.7,64.4 1522.6,64.4 1523.4,64.4 1524.3,64.4 1525.1,64.4 1526.0,64.4 1526.8,64.4 1527.7,64.4 1528.5,64.4 1529.4,64.4 1530.2,64.4 1531.1,64.4 1531.9,64.4 1532.8,64.4 1533.6,64.4 1534.5,64.4 1535.3,64.4 1536.2,64.4 1537.0,64.4 1537.9,64.4 1538.7,64.4 1539.6,64.4 1540.4,64.4 1541.3,64.4 1542.1,64.4 1543.0,64.4 1543.8,64.4 1544.7,64.4 1545.5,64.4 1546.4,64.4 1547.2,64.4 1548.1,64.4 1548.9,64.4 1549.8,64.5 1550.6,64.5 1551.5,64.5 1552.3,64.5 1553.2,64.5 1554.0,64.5 1554.9,64.5 1555.7,64.5 1556.6,64.5 1557.4,64.5 1558.3,64.5 1559.1,64.5 1560.0,64.5 1560.8,64.5 1561.7,64.5 1562.5,64.5 1563.4,64.5 1564.2,64.5 1565.1,64.6 1565.9,64.6 1566.8,64.6 1567.6,64.6 1568.5,64.6 1569.3,64.6 1570.2,64.6 1571.0,64.6 1571.9,64.6 1572.7,64.6 1573.6,64.6 1574.4,64.6 1575.3,64.6 1576.1,64.7 1577.0,64.7 1577.8,64.7 1578.7,64.7 1579.5,64.7 1580.4,64.7 1581.2,64.7 1582.1,64.7 1582.9,64.7 1583.8,64.7 1584.6,64.7 1585.5,64.8 1586.3,64.8 1587.2,64.8 1588.0,64.8 1588.9,64.8 1589.7,64.8 1590.6,64.8 1591.4,64.8 1592.3,64.8 1593.1,64.8 1594.0,64.9 1594.8,64.9 1595.7,64.9 1596.5,64.9 1597.4,64.9 1598.2,64.9 1599.1,64.9 1599.9,64.9 1600.8,64.9 1601.6,65.0 1602.5,65.0 1603.3,65.0 1604.2,65.0 1605.0,65.0 1605.9,65.0 1606.7,65.0 1607.6,65.0 1608.4,65.0 1609.3,65.1 1610.1,65.1 1611.0,65.1 1611.8,65.1 1612.7,65.1 1613.5,65.1 1614.4,65.1 1615.2,65.1 1616.1,65.1 1616.9,65.2 1617.8,65.2 1618.6,65.2 1619.5,65.2 1620.3,65.2 1621.2,65.2 1622.0,65.2 1622.9,65.2 1623.7,65.2 1624.6,65.3 1625.4,65.3 1626.3,65.3 1627.1,65.3 1628.0,65.3 1628.8,65.3 1629.7,65.3 1630.5,65.3 1631.4,65.3 1632.2,65.4 1633.1,65.4 1633.9,65.4 1634.8,65.4 1635.6,65.4 1636.5,65.4 1637.3,65.4 1638.2,65.4 1639.0,65.4 1639.9,65.5 1640.7,65.5 1641.6,65.5 1642.4,65.5 1643.3,65.5 1644.1,65.5 1645.0,65.5 1645.8,65.5 1646.7,65.5 1647.5,65.6 1648.4,65.6 1649.2,65.6 1650.1,65.6 1650.9,65.6 1651.8,65.6 1652.6,65.6 1653.5,65.6 1654.3,65.7 1655.2,65.7 1656.0,65.7 1656.9,65.7 1657.7,65.7 1658.6,65.7 1659.4,65.7 1660.3,65.8 1661.1,65.8 1662.0,65.8 1662.8,65.8 1663.7,65.8 1664.5,65.8 1665.4,65.8 1666.2,65.9 1667.1,65.9 1667.9,65.9 1668.8,65.9 1669.6,65.9 1670.5,65.9 1671.3,66.0 1672.2,66.0 1673.0,66.0 1673.9,66.0 1674.7,66.0 1675.6,66.0 1676.4,66.1 1677.3,66.1 1678.1,66.1 1679.0,66.1 1679.8,66.1 1680.7,66.1 1681.5,66.2 1682.4,66.2 1683.2,66.2 1684.1,66.2 1684.9,66.3 1685.8,66.3 1686.6,66.3 1687.5,66.3 1688.3,66.3 1689.2,66.4 1690.0,66.4 1690.9,66.4 1691.7,66.5 1692.6,66.5 1693.4,66.5 1694.3,66.5 1695.1,66.6 1696.0,66.6 1696.8,66.6 1697.7,66.7 1698.5,66.7 1699.4,66.7 1700.2,66.8 1701.1,66.8 1701.9,66.8 1702.8,66.9 1703.6,66.9 1704.5,66.9 1705.3,67.0 1706.2,67.0 1707.0,67.1 1707.9,67.1 1708.7,67.1 1709.6,67.2 1710.4,67.2 1711.3,67.2 1712.1,67.3 1713.0,67.3 1713.8,67.4 1714.7,67.4 1715.5,67.4 1716.4,67.5 1717.2,67.5 1718.1,67.6 1718.9,67.6 1719.8,67.6 1720.6,67.7 1721.5,67.7 1722.3,67.8 1723.2,67.8 1724.0,67.8 1724.9,67.9 1725.7,67.9 1726.6,68.0 1727.4,68.0 1728.3,68.0 1729.1,68.1 1730.0,68.1 1730.8,68.2 1731.7,68.2 1732.5,68.2 1733.4,68.3 1734.2,68.3 1735.1,68.3 1735.9,68.4 1736.8,68.4 1737.6,68.5 1738.5,68.5 1739.3,68.5 1740.2,68.6 1741.0,68.6 1741.9,68.6 1742.7,68.7 1743.6,68.7 1744.4,68.8 1745.3,68.8 1746.1,68.8 1747.0,68.9 1747.8,68.9 1748.7,69.0 1749.5,69.0 1750.4,69.0 1751.2,69.1 1752.1,69.1 1752.9,69.1 1753.8,69.2 1754.6,69.2 1755.5,69.3 1756.3,69.3 1757.2,69.3 1758.0,69.4 1758.9,69.4 1759.7,69.5 1760.6,69.5 1761.4,69.6 1762.3,69.6 1763.1,69.6 1764.0,69.7 1764.8,69.7 1765.7,69.8 1766.5,69.8 1767.4,69.8 1768.2,69.9 1769.1,69.9 1769.9,70.0 1770.8,70.0 1771.6,70.1 1772.5,70.1 1773.3,70.2 1774.2,70.2 1775.0,70.3 1775.9,70.3 1776.7,70.3 1777.6,70.4 1778.4,70.4 1779.3,70.5 1780.1,70.5 1781.0,70.6 1781.8,70.6 1782.7,70.7 1783.5,70.7 1784.4,70.8 1785.2,70.8 1786.1,70.9 1786.9,70.9 1787.8,71.0 1788.6,71.0 1789.5,71.1 1790.3,71.1 1791.2,71.2 1792.0,71.2 1792.9,71.3 1793.7,71.3 1794.6,71.4 1795.4,71.4 1796.3,71.5 1797.1,71.6 1798.0,71.6 1798.8,71.7 1799.7,71.7 1800.5,71.8 1801.4,71.8 1802.2,71.9 1803.1,71.9 1803.9,72.0 1804.8,72.1 1805.6,72.1 1806.5,72.2 1807.3,72.2 1808.2,72.3 1809.0,72.4 1809.9,72.4 1810.7,72.5 1811.6,72.5 1812.4,72.6 1813.3,72.7 1814.1,72.7 1815.0,72.8 1815.8,72.8 1816.7,72.9 1817.5,73.0 1818.4,73.0 1819.2,73.1 1820.1,73.2 1820.9,73.2 1821.8,73.3 1822.6,73.3 1823.5,73.4 1824.3,73.5 1825.2,73.5 1826.0,73.6 1826.9,73.7 1827.7,73.8 1828.6,73.8 1829.4,73.9 1830.3,74.0 1831.1,74.0 1832.0,74.1 1832.8,74.2 1833.7,74.2 1834.5,74.3 1835.4,74.4 1836.2,74.5 1837.1,74.5 1837.9,74.6 1838.8,74.7 1839.6,74.8 1840.5,74.8 1841.3,74.9 1842.2,75.0 1843.0,75.1 1843.9,75.1 1844.7,75.2 1845.6,75.3 1846.4,75.4 1847.3,75.5 1848.1,75.5 1849.0,75.6 1849.8,75.7 1850.7,75.8 1851.5,75.9 1852.4,75.9 1853.2,76.0 1854.1,76.1 1854.9,76.2 1855.8,76.3 1856.6,76.3 1857.5,76.4 1858.3,76.5 1859.2,76.6 1860.0,76.7 1860.9,76.7 1861.7,76.8 1862.6,76.9 1863.4,77.0 1864.3,77.1 1865.1,77.1 1866.0,77.2 1866.8,77.3 1867.7,77.4 1868.5,77.5 1869.4,77.5 1870.2,77.6 1871.1,77.7 1871.9,77.8 1872.8,77.8 1873.6,77.9 1874.5,78.0 1875.3,78.1 1876.2,78.2 1877.0,78.2 1877.9,78.3 1878.7,78.4 1879.6,78.5 1880.4,78.6 1881.3,78.6 1882.1,78.7 1883.0,78.8 1883.8,78.9 1884.7,79.0 1885.5,79.0 1886.4,79.1 1887.2,79.2 1888.1,79.3 1888.9,79.4 1889.8,79.4 1890.6,79.5 1891.5,79.6 1892.3,79.7 1893.2,79.8 1894.0,79.8 1894.9,79.9 1895.7,80.0 1896.6,80.1 1897.4,80.2 1898.3,80.3 1899.1,80.3 1900.0,80.4 1900.8,80.5 1901.7,80.6 1902.5,80.7 1903.4,80.8 1904.2,80.9 1905.1,81.0 1905.9,81.1 1906.8,81.1 1907.6,81.2 1908.5,81.3 1909.3,81.4 1910.2,81.5 1911.0,81.6 1911.9,81.7 1912.7,81.8 1913.6,81.9 1914.4,82.0 1915.3,82.1 1916.1,82.2 1917.0,82.3 1917.8,82.4 1918.7,82.5 1919.5,82.6 1920.4,82.7 1921.2,82.8 1922.1,82.9 1922.9,83.0 1923.8,83.1 1924.6,83.2 1925.5,83.3 1926.3,83.4 1927.2,83.5 1928.0,83.6 1928.9,83.7 1929.7,83.8 1930.6,83.9 1931.4,84.0 1932.3,84.1 1933.1,84.2 1934.0,84.3 1934.8,84.4 1935.7,84.5 1936.5,84.6 1937.4,84.8 1938.2,84.9 1939.1,85.0 1939.9,85.1 1940.8,85.2 1941.6,85.3"/>
<polyline class="curve" stroke="#00ff00" stroke-width="4.6" points="1432.5,391.4 1434.2,391.1 1435.9,390.8 1437.6,390.4 1439.3,390.1 1441.0,389.7 1442.7,389.4 1444.4,389.1 1446.1,388.7 1447.8,388.4 1449.5,388.1 1451.2,387.7 1452.9,387.4 1454.6,387.1 1456.3,386.7 1458.0,386.4 1459.7,386.1 1461.4,385.7 1463.1,385.4 1464.9,385.1 1466.6,384.7 1468.3,384.4 1470.0,384.1 1471.7,383.7 1473.4,383.4 1475.1,383.1 1476.8,382.7 1478.5,382.4 1480.2,382.1 1481.9,381.8 1483.6,381.5 1485.3,381.1 1487.0,380.8 1488.7,380.5 1490.4,380.2 1492.1,379.8 1493.8,379.5 1495.5,379.2 1497.2,378.9 1498.9,378.5 1500.6,378.2 1502.3,377.9 1504.0,377.6 1505.7,377.2 1507.4,376.9 1509.1,376.6 1510.8,376.2 1512.5,375.9 1514.2,375.6 1515.9,375.2 1517.6,374.9 1519.3,374.6 1521.0,374.2 1522.7,373.9 1524.4,373.6 1526.1,373.2 1527.8,372.9 1529.6,372.5 1531.3,372.2 1533.0,371.9 1534.7,371.5 1536.4,371.2 1538.1,370.8 1539.8,370.5 1541.5,370.1 1543.2,369.8 1544.9,369.4 1546.6,369.1 1548.3,368.7 1550.0,368.4 1551.7,368.0 1553.4,367.7 1555.1,367.3 1556.8,367.0 1558.5,366.6 1560.2,366.3 1561.9,365.9 1563.6,365.6 1565.3,365.2 1567.0,364.9 1568.7,364.5 1570.4,364.2 1572.1,363.8 1573.8,363.4 1575.5,363.1 1577.2,362.7 1578.9,362.4 1580.6,362.0 1582.3,361.7 1584.0,361.3 1585.7,361.0 1587.4,360.6 1589.1,360.2 1590.8,359.9 1592.6,359.5 1594.3,359.2 1596.0,358.8 1597.7,358.4 1599.4,358.1 1601.1,357.7 1602.8,357.4 1604.5,357.1 1606.2,356.7 1607.9,356.4 1609.6,356.1 1611.3,355.8 1613.0,355.5 1614.7,355.2 1616.4,355.0 1618.1,354.7 1619.8,354.4 1621.5,354.2 1623.2,353.9 1624.9,353.6 1626.6,353.4 1628.3,353.1 1630.0,352.9 1631.7,352.6 1633.4,352.3 1635.1,352.1 1636.8,351.8 1638.5,351.6 1640.2,351.3 1641.9,351.1 1643.6,350.8 1645.3,350.5 1647.0,350.3 1648.7,350.0 1650.4,349.8 1652.1,349.5 1653.8,349.3 1655.6,349.0 1657.3,348.8 1659.0,348.5 1660.7,348.2 1662.4,347.9 1664.1,347.6 1665.8,347.2 1667.5,346.7 1669.2,346.1 1670.9,345.4 1672.6,344.6 1674.3,343.8 1676.0,343.2 1677.7,343.1 1679.4,343.4 1681.1,343.8 1682.8,344.0 1684.5,344.1 1686.2,344.1 1687.9,344.0 1689.6,343.7 1691.3,343.5 1693.0,343.1 1694.7,342.8 1696.4,342.5 1698.1,342.2 1699.8,341.9 1701.5,341.6 1703.2,341.3 1704.9,341.0 1706.6,340.8 1708.3,340.6 1710.0,340.6 1711.7,340.6 1713.4,340.7 1715.1,340.9 1716.8,341.1 1718.5,341.1 1720.3,341.0 1722.0,340.8 1723.7,340.7 1725.4,340.7 1727.1,340.8 1728.8,340.9 1730.5,341.1 1732.2,341.3 1733.9,341.6 1735.6,341.8 1737.3,342.1 1739.0,342.3 1740.7,342.6 1742.4,342.9 1744.1,343.2 1745.8,343.5 1747.5,343.8 1749.2,344.0 1750.9,344.2 1752.6,344.3 1754.3,344.3 1756.0,344.2 1757.7,344.0 1759.4,343.7 1761.1,343.3 1762.8,342.9 1764.5,342.4 1766.2,341.8 1767.9,341.2 1769.6,340.5 1771.3,339.9 1773.0,339.2 1774.7,338.6 1776.4,338.0 1778.1,337.5 1779.8,337.1 1781.5,336.8 1783.3,336.7 1785.0,336.6 1786.7,336.6 1788.4,336.7 1790.1,336.8 1791.8,336.9 1793.5,337.1 1795.2,337.4 1796.9,337.6 1798.6,338.0 1800.3,338.3 1802.0,338.5 1803.7,338.6 1805.4,338.7 1807.1,338.8 1808.8,338.8 1810.5,338.8 1812.2,338.8 1813.9,338.8 1815.6,338.8 1817.3,338.8 1819.0,338.8 1820.7,338.8 1822.4,338.8 1824.1,338.8 1825.8,338.7 1827.5,338.7 1829.2,338.5 1830.9,338.3 1832.6,337.9 1834.3,337.5 1836.0,337.0 1837.7,336.4 1839.4,335.9 1841.1,335.3 1842.8,334.7 1844.5,334.1 1846.3,333.4 1848.0,332.7 1849.7,332.0 1851.4,331.3 1853.1,330.6 1854.8,330.0 1856.5,329.4 1858.2,328.9 1859.9,328.4 1861.6,327.9 1863.3,327.4 1865.0,327.0 1866.7,326.6 1868.4,326.1 1870.1,325.7 1871.8,325.3 1873.5,325.0 1875.2,324.7 1876.9,324.4 1878.6,324.1 1880.3,323.8 1882.0,323.6 1883.7,323.4 1885.4,323.2 1887.1,323.0 1888.8,322.8 1890.5,322.6 1892.2,322.4 1893.9,322.3 1895.6,322.1 1897.3,322.0 1899.0,322.0 1900.7,321.9 1902.4,321.9 1904.1,322.0 1905.8,322.0 1907.5,322.1 1909.2,322.2 1911.0,322.3 1912.7,322.4 1914.4,322.5 1916.1,322.6 1917.8,322.8 1919.5,322.9 1921.2,323.0 1922.9,323.2 1924.6,323.3 1926.3,323.4 1928.0,323.6 1929.7,323.8 1931.4,323.9 1933.1,324.1 1934.8,324.3 1936.5,324.5 1938.2,324.7 1939.9,325.0 1941.6,325.3"/>
<polyline class="curve" stroke="#0000ff" points="1432.5,64.7 1434.2,64.7 1435.9,64.7 1437.6,64.7 1439.3,64.7 1441.0,64.8 1442.7,64.8 1444.4,64.8 1446.1,64.8 1447.8,64.8 1449.5,64.8 1451.2,64.8 1452.9,64.8 1454.6,64.9 1456.3,64.9 1458.0,64.9 1459.7,64.9 1461.4,64.9 1463.1,65.0 1464.9,65.0 1466.6,65.0 1468.3,65.0 1470.0,65.0 1471.7,65.1 1473.4,65.1 1475.1,65.1 1476.8,65.2 1478.5,65.2 1480.2,65.2 1481.9,65.3 1483.6,65.3 1485.3,65.3 1487.0,65.4 1488.7,65.4 1490.4,65.5 1492.1,65.5 1493.8,65.6 1495.5,65.7 1497.2,65.7 1498.9,65.8 1500.6,65.9 1502.3,65.9 1504.0,66.0 1505.7,66.1 1507.4,66.2 1509.1,66.3 1510.8,66.4 1512.5,66.5 1514.2,66.6 1515.9,66.7 1517.6,66.8 1519.3,66.9 1521.0,67.0 1522.7,67.1 1524.4,67.2 1526.1,67.3 1527.8,67.5 1529.6,67.6 1531.3,67.7 1533.0,67.8 1534.7,67.9 1536.4,68.0 1538.1,68.1 1539.8,68.2 1541.5,68.3 1543.2,68.4 1544.9,68.5 1546.6,68.6 1548.3,68.7 1550.0,68.8 1551.7,68.9 1553.4,69.0 1555.1,69.1 1556.8,69.2 1558.5,69.4 1560.2,69.5 1561.9,69.6 1563.6,69.7 1565.3,69.8 1567.0,69.9 1568.7,70.1 1570.4,70.2 1572.1,70.3 1573.8,70.5 1575.5,70.6 1577.2,70.7 1578.9,70.9 1580.6,71.0 1582.3,71.1 1584.0,71.3 1585.7,71.4 1587.4,71.6 1589.1,71.7 1590.8,71.9 1592.6,72.0 1594.3,72.2 1596.0,72.4 1597.7,72.5 1599.4,72.7 1601.1,72.9 1602.8,73.0 1604.5,73.2 1606.2,73.4 1607.9,73.6 1609.6,73.8 1611.3,74.0 1613.0,74.2 1614.7,74.4 1616.4,74.6 1618.1,74.8 1619.8,75.0 1621.5,75.2 1623.2,75.5 1624.9,75.7 1626.6,75.9 1628.3,76.2 1630.0,76.4 1631.7,76.7 1633.4,76.9 1635.1,77.2 1636.8,77.5 1638.5,77.7 1640.2,78.0 1641.9,78.3 1643.6,78.6 1645.3,78.8 1647.0,79.1 1648.7,79.4 1650.4,79.7 1652.1,80.0 1653.8,80.3 1655.6,80.6 1657.3,80.9 1659.0,81.2 1660.7,81.5 1662.4,81.8 1664.1,82.1 1665.8,82.4 1667.5,82.8 1669.2,83.1 1670.9,83.4 1672.6,83.7 1674.3,84.1 1676.0,84.4 1677.7,84.8 1679.4,85.1 1681.1,85.5 1682.8,85.8 1684.5,86.2 1686.2,86.6 1687.9,86.9 1689.6,87.3 1691.3,87.7 1693.0,88.1 1694.7,88.4 1696.4,88.8 1698.1,89.2 1699.8,89.6 1701.5,90.0 1703.2,90.4 1704.9,90.8 1706.6,91.2 1708.3,91.6 1710.0,92.0 1711.7,92.4 1713.4,92.8 1715.1,93.2 1716.8,93.6 1718.5,93.9 1720.3,94.3 1722.0,94.7 1723.7,95.1 1725.4,95.5 1727.1,95.9 1728.8,96.3 1730.5,96.7 1732.2,97.1 1733.9,97.5 1735.6,97.9 1737.3,98.3 1739.0,98.7 1740.7,99.1 1742.4,99.5 1744.1,99.9 1745.8,100.3 1747.5,100.7 1749.2,101.1 1750.9,101.6 1752.6,102.0 1754.3,102.4 1756.0,102.8 1757.7,103.2 1759.4,103.6 1761.1,104.0 1762.8,104.4 1764.5,104.8 1766.2,105.2 1767.9,105.6 1769.6,106.1 1771.3,106.5 1773.0,106.9 1774.7,107.3 1776.4,107.7 1778.1,108.2 1779.8,108.6 1781.5,109.0 1783.3,109.5 1785.0,109.9 1786.7,110.3 1788.4,110.8 1790.1,111.2 1791.8,111.6 1793.5,112.1 1795.2,112.5 1796.9,113.0 1798.6,113.4 1800.3,113.8 1802.0,114.3 1803.7,114.7 1805.4,115.2 1807.1,115.6 1808.8,116.1 1810.5,116.5 1812.2,116.9 1813.9,117.4 1815.6,117.8 1817.3,118.3 1819.0,118.7 1820.7,119.2 1822.4,119.7 1824.1,120.1 1825.8,120.6 1827.5,121.0 1829.2,121.5 1830.9,122.0 1832.6,122.4 1834.3,122.9 1836.0,123.4 1837.7,123.8 1839.4,124.3 1841.1,124.8 1842.8,125.3 1844.5,125.7 1846.3,126.2 1848.0,126.7 1849.7,127.2 1851.4,127.6 1853.1,128.1 1854.8,128.6 1856.5,129.1 1858.2,129.6 1859.9,130.0 1861.6,130.5 1863.3,131.0 1865.0,131.5 1866.7,132.0 1868.4,132.4 1870.1,132.9 1871.8,133.4 1873.5,133.9 1875.2,134.4 1876.9,134.9 1878.6,135.3 1880.3,135.8 1882.0,136.3 1883.7,136.8 1885.4,137.3 1887.1,137.8 1888.8,138.2 1890.5,138.7 1892.2,139.2 1893.9,139.7 1895.6,140.2 1897.3,140.6 1899.0,141.1 1900.7,141.6 1902.4,142.1 1904.1,142.6 1905.8,143.0 1907.5,143.5 1909.2,144.0 1911.0,144.5 1912.7,145.0 1914.4,145.4 1916.1,145.9 1917.8,146.4 1919.5,146.9 1921.2,147.3 1922.9,147.8 1924.6,148.3 1926.3,148.8 1928.0,149.2 1929.7,149.7 1931.4,150.1 1933.1,150.6 1934.8,151.1 1936.5,151.6 1938.2,152.1 1939.9,152.6 1941.6,153.1"/>
</g>
<path class="axis" d="M1432.50,60.15 V436.50"/>
<path class="axisb" d="M1431.60,435.80 H1942.50"/>
<path class="axis2" d="M1431.60,60.90 H1942.50"/>
<path class="axis3" d="M1941.60,60.90 V436.50"/>
<path class="tk" d="M1432.50,416.83h4.2M1432.50,398.05h7.8M1432.50,379.28h4.2M1432.50,360.50h7.8M1432.50,341.73h4.2M1432.50,322.95h7.8M1432.50,304.18h4.2M1432.50,285.40h7.8M1432.50,266.62h4.2M1432.50,247.85h7.8M1432.50,229.08h4.2M1432.50,210.30h7.8M1432.50,191.53h4.2M1432.50,172.75h7.8M1432.50,153.98h4.2M1432.50,135.20h7.8M1432.50,116.43h4.2M1432.50,97.65h7.8M1432.50,78.88h4.2M1474.92,435.80v-4.2M1517.35,435.80v-8.0M1559.78,435.80v-4.2M1602.20,435.80v-8.0M1644.62,435.80v-4.2M1687.05,435.80v-8.0M1729.47,435.80v-4.2M1771.90,435.80v-8.0M1814.32,435.80v-4.2M1856.75,435.80v-8.0M1899.17,435.80v-4.2"/>
<text class="tick" text-anchor="end" x="1423.5" y="444.2">0</text>
<text class="tick" text-anchor="end" x="1423.5" y="406.6">10</text>
<text class="tick" text-anchor="end" x="1423.5" y="369.1">20</text>
<text class="tick" text-anchor="end" x="1423.5" y="331.5">30</text>
<text class="tick" text-anchor="end" x="1423.5" y="293.9">40</text>
<text class="tick" text-anchor="end" x="1423.5" y="256.4">50</text>
<text class="tick" text-anchor="end" x="1423.5" y="218.8">60</text>
<text class="tick" text-anchor="end" x="1423.5" y="181.2">70</text>
<text class="tick" text-anchor="end" x="1423.5" y="143.7">80</text>
<text class="tick" text-anchor="end" x="1423.5" y="106.1">90</text>
<text class="tick" text-anchor="end" x="1423.5" y="68.6">100</text>
<text class="tick" text-anchor="middle" x="1432.5" y="466.7">400</text>
<text class="tick" text-anchor="middle" x="1517.3" y="466.7">450</text>
<text class="tick" text-anchor="middle" x="1602.2" y="466.7">500</text>
<text class="tick" text-anchor="middle" x="1687.0" y="466.7">550</text>
<text class="tick" text-anchor="middle" x="1771.9" y="466.7">600</text>
<text class="tick" text-anchor="middle" x="1856.8" y="466.7">650</text>
<text class="tick" text-anchor="middle" x="1941.6" y="466.7">700</text>
<text class="title" text-anchor="middle" transform="translate(1687.0,508.9) scale(1.035,1)">Wavelength (nm)</text>
<text class="ytitle" text-anchor="middle" transform="translate(1368.6,241.9) rotate(-90) scale(1.005,1.02)">Haze (%)</text>
<path class="legline" stroke="#000000" d="M1693.3,183.3H1748.8"/>
<text class="leg" style="font-size:24px" transform="translate(1756.6,190.9) scale(1.035,1)">Bare glass</text>
<path class="legline" stroke="#ff0000" d="M1693.3,214.6H1748.8"/>
<text class="leg" style="font-size:24.6px" transform="translate(1756.6,222.5) scale(0.987,1)">MIP</text>
<path class="legline" stroke="#00ff00" d="M1693.3,246.2H1748.8"/>
<text class="leg" style="font-size:24.6px" transform="translate(1756.6,253.9) scale(0.972,1)">MLA</text>
<path class="legline" stroke="#0000ff" d="M1693.3,277.6H1748.8"/>
<text class="leg" style="font-size:24.6px" transform="translate(1756.6,285.6) scale(1.015,1)">PDLC</text>
</g>
</svg>
</body>
</html>
